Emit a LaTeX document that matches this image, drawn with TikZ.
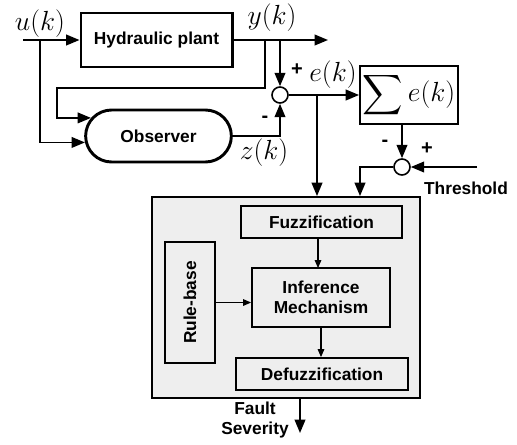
\documentclass[tikz,border=0pt]{standalone}
\usepackage{amsmath}
\usepackage{amssymb}
\usepackage{fontspec}
\setsansfont{Liberation Sans}
\usepackage{tikz}
\usetikzlibrary{arrows.meta,shapes.misc}
\usepackage{xcolor}

\tikzset{
  blk/.style={draw, line width=1.4pt, font=\sffamily\bfseries\fontsize{13}{15}\selectfont, align=center, inner sep=2pt},
  sumpt/.style={circle, draw, line width=1.2pt, fill=white, minimum size=12pt, inner sep=0pt},
  sig/.style={line width=1.3pt, -{Triangle[length=10pt,width=8pt]}},
  thin/.style={line width=0.8pt, -{Triangle[length=6pt,width=5pt]}},
  lbl/.style={font=\fontsize{21}{24}\selectfont, inner sep=0pt},
  sgn/.style={font=\sffamily\bfseries\fontsize{15}{17}\selectfont, inner sep=0pt}
}

\begin{document}
\begin{tikzpicture}[x=0.75pt,y=-0.75pt]
\useasboundingbox (0,0) rectangle (517,444);

% plant and observer
\node[blk, line width=2.2pt, minimum width=113.3pt, minimum height=40.5pt] (plant) at (156.5,40) {Hydraulic plant};
\node[blk, line width=2.2pt, rounded rectangle, minimum width=113.3pt, minimum height=39pt] (obs) at (158.5,136) {Observer};

\node[sumpt] (c1) at (280,95) {};
\node[blk, font=\fontsize{21}{24}\selectfont, minimum width=73.5pt, minimum height=43.5pt, inner sep=1pt] (sum) at (409,95) {$\displaystyle\sum e(k)$};
\node[sumpt] (c2) at (402,167) {};

% fuzzy evaluation
\node[draw, line width=1.4pt, fill=gray!13, minimum width=201pt, minimum height=150.75pt] (fis) at (286,297.5) {};
\node[blk, minimum width=120.75pt, minimum height=24pt] (fuzz) at (321.5,222) {Fuzzification};
\node[blk, rotate=90, minimum width=90.75pt, minimum height=37.5pt] (rule) at (190,302.5) {Rule-base};
\node[blk, minimum width=103.5pt, minimum height=44.25pt] (inf) at (321,297.5) {Inference\\Mechanism};
\node[blk, minimum width=129pt, minimum height=24pt] (defuzz) at (322,374) {Defuzzification};

\coordinate (uin) at (23,40);
\coordinate (uj) at (40,40);
\coordinate (yj1) at (265,40);
\coordinate (yout) at (328,40);
\coordinate (loop) at (57,88);
\coordinate (ej) at (317,95);
\coordinate (thr) at (477,167);
\coordinate (t2) at (360,167);
\coordinate (fout) at (300,433);

\draw[sig] (uin) -- (plant.west);
\draw[sig] (uj) |- (obs.185);
\draw[sig] (plant.east) -- (yout);
\draw[sig] (yj1) |- (loop) |- (obs.165);
\draw[sig] (c1 |- plant.east) -- (c1.north);
\draw[sig] (obs.east) -| (c1.south);
\draw[sig] (c1.east) -- (sum.west);
\draw[sig] (ej) -- (ej |- fis.north);
\draw[sig] (c2 |- sum.south) -- (c2.north);
\draw[sig] (thr) -- (c2.east);
\draw[sig] (c2.west) -- (t2) -- (t2 |- fis.north);
\draw[sig] (fout |- fis.south) -- (fout);

\draw[thin] (fuzz.south -| 318,0) -- (318,268);
\draw[thin] (rule.south) -- (rule.south -| inf.west);
\draw[thin] (inf.south) -- (inf.south |- defuzz.north);

% labels
\node[lbl] (ul) at (40,24) {$u(k)$};
\node[lbl] (yl) at (272,18) {$y(k)$};
\node[lbl] (el) at (333,75) {$e(k)$};
\node[lbl] (zl) at (264,153) {$z(k)$};
\node[sgn] (p1) at (297,70) {+};
\node[sgn] (m1) at (265,119) {-};
\node[sgn] (m2) at (385,143) {-};
\node[sgn] (p2) at (427,149) {+};
\node[font=\sffamily\bfseries\fontsize{13}{15}\selectfont, inner sep=0pt] (thl) at (466,188) {Threshold};
\node[font=\sffamily\bfseries\fontsize{13}{15}\selectfont, align=center, inner sep=0pt] (fsl) at (255,420) {Fault\\Severity};
\end{tikzpicture}
\end{document}
